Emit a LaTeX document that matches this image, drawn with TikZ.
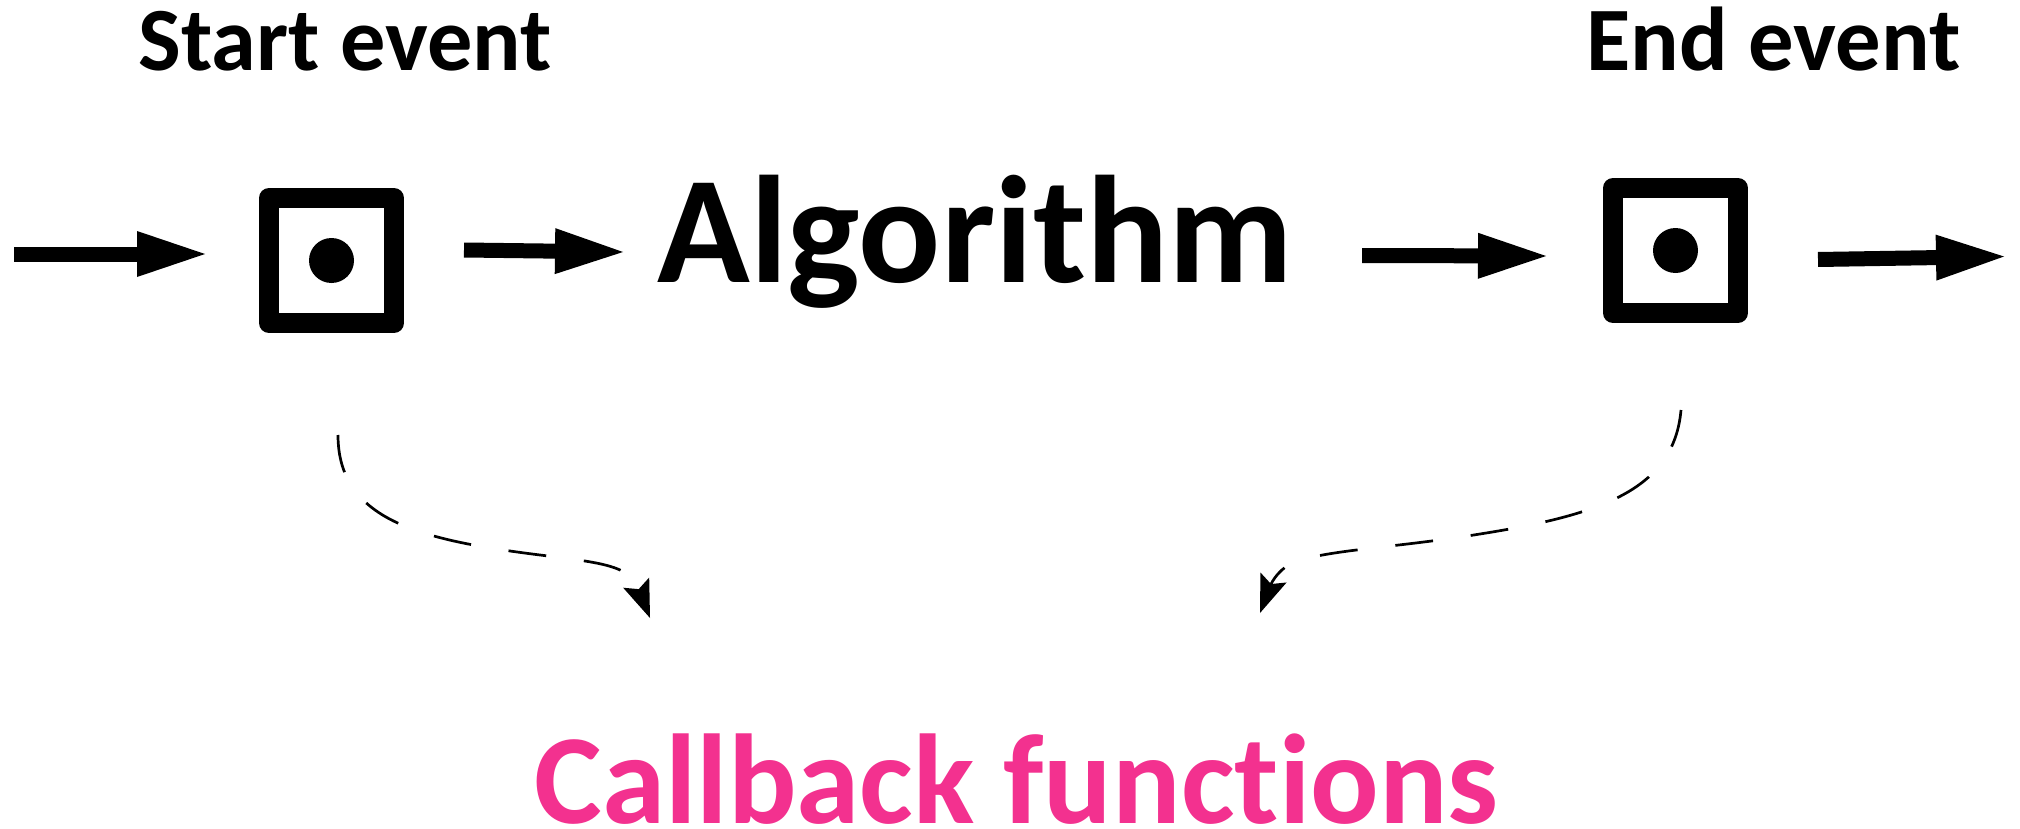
\documentclass[tikz,border=0pt]{standalone}
\usepackage{fontspec}
\setmainfont{Carlito}[Ligatures={NoCommon}]
\usetikzlibrary{arrows.meta,calc}
\definecolor{cbpink}{RGB}{243,49,143}
\begin{document}
\begin{tikzpicture}[x=0.5pt,y=-0.5pt,
  evbox/.style={draw, line width=10pt, line join=round, minimum size=62.5pt,
    inner sep=0pt, fill=white},
  caption/.style={anchor=base west, inner sep=0pt, font=\bfseries},
  fatarrow/.style={line width=7.5pt,
    -{Triangle[length=34pt,width=23pt,line width=0pt]}},
  callback/.style={line width=1.35pt, dash pattern=on 19pt off 19pt,
    -{Stealth[length=19pt,width=14pt,inset=3.5pt,line width=0pt]}}
]
% canvas
\fill[white] (0,0) rectangle (2020,829);
\useasboundingbox (0,0) rectangle (2020,829);

% event boxes with their dots
\node[evbox] (sbox) at (331.5,260.5) {};
\fill (sbox.center) circle (22.5);
\node[evbox] (ebox) at (1675.5,250.5) {};
\fill (ebox.center) circle (22.5);

% texts
\node[caption] (stxt) at (138,71) {\resizebox{206.5pt}{!}{Start event}};
\node[caption] (etxt) at (1586,71) {\resizebox{187pt}{!}{End event}};
\node[caption] (alg) at (657,282) {\resizebox{317.5pt}{!}{Algorithm}};
\node[caption, text=cbpink] (cb) at (534,823) {\resizebox{482pt}{!}{Callback functions}};

% main flow
\coordinate (in1) at (14,254);
\coordinate (out1) at (2004,256.5);
\draw[fatarrow, shorten >=27pt] (in1) -- (in1 -| sbox.west);
\draw[fatarrow] ($(sbox.east)+(60,-10.5)$) -- ($(alg.base west)+(-34,-30)$);
\draw[fatarrow] ($(alg.base east)+(69,-26.5)$) -- ($(ebox.west)+(-57,5.5)$);
\draw[fatarrow] ($(ebox.east)+(70,9)$) -- (out1);

% callbacks
\coordinate (ls) at ($(sbox.south)+(6.5,102)$);
\coordinate (le) at ($(cb.base west)+(116,-205)$);
\coordinate (rs) at ($(ebox.south)+(5.5,87)$);
\coordinate (re) at ($(cb.base west)+(726,-210)$);
\draw[callback] (ls) .. controls (338,520) and (420,540) .. (540,555)
  .. controls (580,560) and (605,563) .. (620,570)
  .. controls (635,577) and (641,595) .. (le);
\draw[callback] (rs) .. controls (1674,490) and (1600,515) .. (1480,534)
  .. controls (1400,547) and (1340,549) .. (1300,560)
  .. controls (1275,567) and (1268,592) .. (re);
\end{tikzpicture}
\end{document}
